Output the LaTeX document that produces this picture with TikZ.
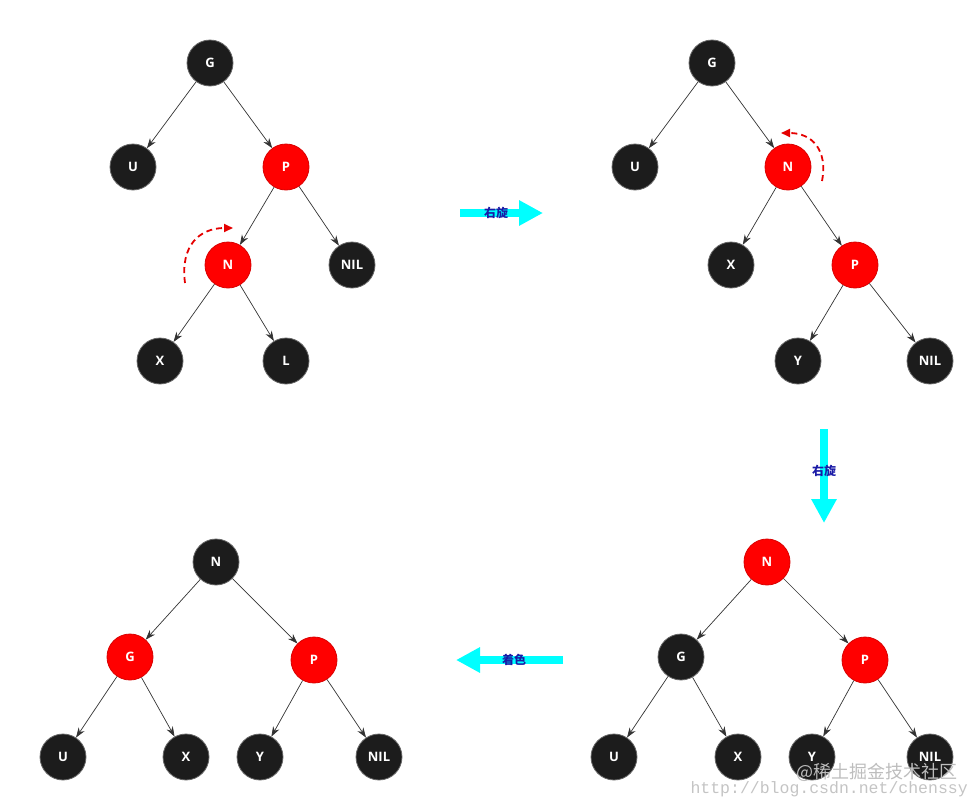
\documentclass[tikz,border=0pt]{standalone}
\usepackage{fontspec}
\setmainfont{Open Sans}
\newfontfamily\cjk{Noto Sans CJK SC}
\newfontfamily\wmono{Liberation Mono}
\usetikzlibrary{arrows.meta}
\definecolor{nodeblack}{HTML}{1C1C1C}
\definecolor{nodered}{HTML}{FF0000}
\definecolor{lblblue}{HTML}{1A1AA6}
\definecolor{wm}{HTML}{BDBDBD}
\definecolor{aqua}{HTML}{00FFFF}
\begin{document}
\begin{tikzpicture}[x=1pt,y=-1pt,
 bn/.style={circle,fill=nodeblack,draw=black!60,line width=0.8pt,minimum size=46pt,inner sep=0pt,text=white,font=\bfseries\fontsize{13}{13}\selectfont},
 rn/.style={bn,fill=nodered,draw=red!85!black},
 edge/.style={draw=black!80,line width=0.7pt,-{Stealth[length=10pt,width=7pt]}},
 rot/.style={draw=red!90!black,line width=1.8pt,dash pattern=on 6pt off 4pt,-{Triangle[length=9pt,width=8pt]}},
 big/.style={draw=aqua,line width=8pt,-{Triangle[length=24pt,width=24pt]}},
 lbl/.style={text=lblblue,font=\cjk\bfseries\fontsize{12}{12}\selectfont}
]
\useasboundingbox (0,0) rectangle (979,806);

% Tree 1 (top-left)
\node[bn] (g1) at (210,63) {G};
\node[bn] (u1) at (133,167) {U};
\node[rn] (p1) at (286,167) {P};
\node[rn] (n1) at (228,265) {N};
\node[bn] (nil1) at (352,265) {NIL};
\node[bn] (x1) at (160,361) {X};
\node[bn] (l1) at (286,361) {L};
\draw[edge] (g1) -- (u1);
\draw[edge] (g1) -- (p1);
\draw[edge] (p1) -- (n1);
\draw[edge] (p1) -- (nil1);
\draw[edge] (n1) -- (x1);
\draw[edge] (n1) -- (l1);
\coordinate (r1s) at (185,283);
\coordinate (r1e) at (233,228);
\draw[rot] (r1s) .. controls (180,245) and (200,228) .. (r1e);

% Tree 2 (top-right)
\node[bn] (g2) at (712,63) {G};
\node[bn] (u2) at (635,167) {U};
\node[rn] (n2) at (788,167) {N};
\node[bn] (x2) at (731,265) {X};
\node[rn] (p2) at (855,265) {P};
\node[bn] (y2) at (798,361) {Y};
\node[bn] (nil2) at (930,361) {NIL};
\draw[edge] (g2) -- (u2);
\draw[edge] (g2) -- (n2);
\draw[edge] (n2) -- (x2);
\draw[edge] (n2) -- (p2);
\draw[edge] (p2) -- (y2);
\draw[edge] (p2) -- (nil2);
\coordinate (r2s) at (822,181);
\coordinate (r2e) at (781,133);
\draw[rot] (r2s) .. controls (828,150) and (812,133) .. (r2e);

% Tree 3 (bottom-right)
\node[rn] (n3) at (767,562) {N};
\node[bn] (g3) at (681,657) {G};
\node[rn] (p3) at (865,660) {P};
\node[bn] (u3) at (614,757) {U};
\node[bn] (x3) at (738,757) {X};
\node[bn] (y3) at (812,757) {Y};
\node[bn] (nil3) at (930,757) {NIL};
\draw[edge] (n3) -- (g3);
\draw[edge] (n3) -- (p3);
\draw[edge] (g3) -- (u3);
\draw[edge] (g3) -- (x3);
\draw[edge] (p3) -- (y3);
\draw[edge] (p3) -- (nil3);

% Tree 4 (bottom-left)
\node[bn] (n4) at (216,562) {N};
\node[rn] (g4) at (130,657) {G};
\node[rn] (p4) at (314,660) {P};
\node[bn] (u4) at (63,757) {U};
\node[bn] (x4) at (186,757) {X};
\node[bn] (y4) at (260,757) {Y};
\node[bn] (nil4) at (379,757) {NIL};
\draw[edge] (n4) -- (g4);
\draw[edge] (n4) -- (p4);
\draw[edge] (g4) -- (u4);
\draw[edge] (g4) -- (x4);
\draw[edge] (p4) -- (y4);
\draw[edge] (p4) -- (nil4);

% Big step arrows
\coordinate (a1s) at (460,213);
\coordinate (a1e) at (543,213);
\draw[big] (a1s) -- (a1e);
\node[lbl] (t1) at (496,213) {右旋};

\coordinate (a2s) at (824,429);
\coordinate (a2e) at (824,523);
\draw[big] (a2s) -- (a2e);
\node[lbl] (t2) at (824,471) {右旋};

\coordinate (a3s) at (563,660);
\coordinate (a3e) at (456,660);
\draw[big] (a3s) -- (a3e);
\node[lbl] (t3) at (514,660) {着色};

% Watermark
\node[text=wm,font=\cjk\fontsize{18}{18}\selectfont,anchor=west] (wm1) at (793,772) {@稀土掘金技术社区};
\node[text=wm!90!white,font=\wmono\fontsize{16.5}{16.5}\selectfont,anchor=west] (wm2) at (687,789) {http://blog.csdn.net/chenssy};
\end{tikzpicture}
\end{document}
